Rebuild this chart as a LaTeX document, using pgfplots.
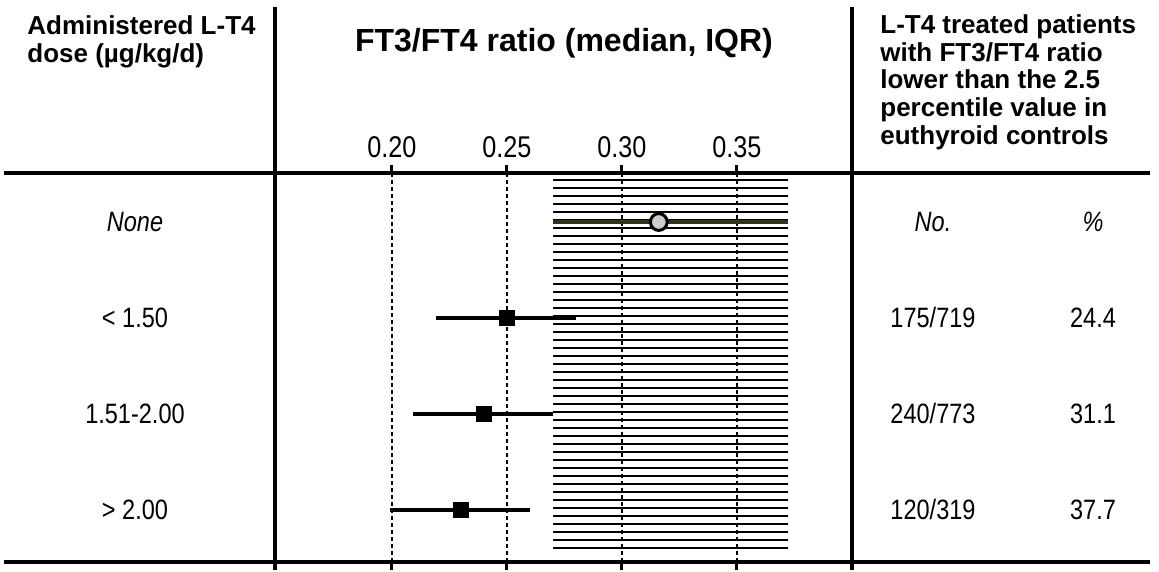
\documentclass[border=0pt]{standalone}
\usepackage{fontspec}
\setmainfont{Liberation Sans}
\newfontfamily\narrow[FakeStretch=0.84]{Liberation Sans}
\usepackage{pgfplots}
\usepackage{pgfplotstable}
\pgfplotsset{compat=1.18}

\definecolor{olivedark}{HTML}{33331C}

% rows: 4 = none, 3 = <1.50, 2 = 1.51-2.00, 1 = >2.00
\pgfplotstableread{
row med   em    ep
3   0.250 0.031 0.030
2   0.240 0.031 0.030
1   0.230 0.031 0.030
}\treated

\begin{document}
\begin{tikzpicture}
\begin{axis}[
  scale only axis,
  width=288.5pt, height=194.5pt,
  xmin=0.14913, xmax=0.4,
  ymin=0.4583, ymax=4.5104,
  clip=false,
  axis line style={draw=none},
  ytick=\empty,
  xtick={0.20,0.25,0.30,0.35},
  xticklabels={0.20,0.25,0.30,0.35},
  xtick pos=both,
  xticklabel pos=upper,
  tick align=outside,
  major tick length=4pt,
  xtick style={line width=1.5pt, black},
  xticklabel style={font=\narrow\fontsize{15}{17}\selectfont},
  xmajorgrids,
  major grid style={black, line width=0.6pt, dash pattern=on 2pt off 1.5pt},
]
% keep the page as large as the reference
\path (axis cs:0.02957,0.375) rectangle (axis cs:0.53348,6.3125);

% reference range of euthyroid controls (0.270-0.372), hatched
\pgfplotsinvokeforeach{0,...,46}{
  \pgfmathsetmacro\hy{4.4375-#1/12}
  \edef\tmp{\noexpand\draw[line width=0.9pt] (axis cs:0.270,\hy) -- (axis cs:0.372,\hy);}
  \tmp
}

% untreated: IQR and median
\addplot[olivedark, line width=1.8pt] coordinates {(0.270,4) (0.372,4)};
\addplot[only marks, mark=*, mark size=4.2pt,
  mark options={fill=gray!40, draw=black, line width=1.5pt}] coordinates {(0.316,4)};

% treated groups
\addplot[only marks, mark=square*, mark size=3.75pt, black,
  error bars/.cd, x dir=both, x explicit, error mark=none,
  error bar style={line width=1.8pt, black}]
  table[x=med, y=row, x error minus=em, x error plus=ep] {\treated};

% frame lines
\draw[line width=2pt] (axis cs:0.0313,4.5104) -- (axis cs:0.52957,4.5104);
\draw[line width=2pt] (axis cs:0.0313,0.4583) -- (axis cs:0.52957,0.4583);
\draw[line width=2pt] (axis cs:0.14913,6.2396) -- (axis cs:0.14913,0.375);
\draw[line width=2pt] (axis cs:0.4,6.2396) -- (axis cs:0.4,0.375);

% headers
\begin{scope}[every node/.style={inner sep=0pt, font=\bfseries\fontsize{13}{14}\selectfont}]
\node[anchor=base west] at (axis cs:0.04130,5.9479) {Administered L-T4};
\node[anchor=base west] at (axis cs:0.04130,5.6563) {dose (µg/kg/d)};
\node[anchor=base west] at (axis cs:0.41217,5.9583) {L-T4 treated patients};
\node[anchor=base west] at (axis cs:0.41217,5.6667) {with FT3/FT4 ratio};
\node[anchor=base west] at (axis cs:0.41217,5.3854) {lower than the 2.5};
\node[anchor=base west] at (axis cs:0.41217,5.0938) {percentile value in};
\node[anchor=base west] at (axis cs:0.41217,4.8021) {euthyroid controls};
\node[anchor=base, font=\bfseries\fontsize{16}{18}\selectfont] at (axis cs:0.27478,5.78) {FT3/FT4 ratio (median, IQR)};
\end{scope}

% row labels and counts
\begin{scope}[every node/.style={inner sep=0pt, anchor=base, font=\narrow\fontsize{14}{16}\selectfont}]
\node at (axis cs:0.08826,3.896) {\itshape None};
\node at (axis cs:0.08826,2.896) {< 1.50};
\node at (axis cs:0.08826,1.896) {1.51-2.00};
\node at (axis cs:0.08826,0.896) {> 2.00};
\node at (axis cs:0.43522,3.896) {\itshape No.};
\node at (axis cs:0.50478,3.896) {\itshape \%};
\node at (axis cs:0.43522,2.896) {175/719};
\node at (axis cs:0.50478,2.896) {24.4};
\node at (axis cs:0.43522,1.896) {240/773};
\node at (axis cs:0.50478,1.896) {31.1};
\node at (axis cs:0.43522,0.896) {120/319};
\node at (axis cs:0.50478,0.896) {37.7};
\end{scope}
\end{axis}
\end{tikzpicture}
\end{document}
